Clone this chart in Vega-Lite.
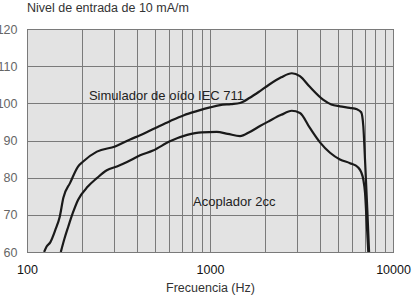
{
  "$schema": "https://vega.github.io/schema/vega-lite/v6.json",
  "width": 366,
  "height": 223,
  "autosize": {"type": "none"},
  "padding": {"left": 27, "top": 29, "right": 22, "bottom": 45},
  "background": "white",
  "title": {
    "text": "Nivel de entrada de 10 mA/m",
    "anchor": "start",
    "frame": "group",
    "fontSize": 12.5,
    "fontWeight": "normal",
    "font": "Liberation Sans",
    "color": "#333333",
    "offset": 9
  },
  "config": {
    "view": {"fill": "#e3e3e3", "stroke": "#444444", "strokeWidth": 1},
    "font": "Liberation Sans"
  },
  "datasets": {
    "curves": [
      {"s": "sim", "i": 0, "f": 124, "db": 60},
      {"s": "sim", "i": 1, "f": 128, "db": 61.5},
      {"s": "sim", "i": 2, "f": 134, "db": 62.6},
      {"s": "sim", "i": 3, "f": 143, "db": 66},
      {"s": "sim", "i": 4, "f": 151, "db": 69.5},
      {"s": "sim", "i": 5, "f": 158, "db": 74.6},
      {"s": "sim", "i": 6, "f": 172, "db": 78.6},
      {"s": "sim", "i": 7, "f": 190, "db": 83},
      {"s": "sim", "i": 8, "f": 202, "db": 84.3},
      {"s": "sim", "i": 9, "f": 241, "db": 87},
      {"s": "sim", "i": 10, "f": 303, "db": 88.4},
      {"s": "sim", "i": 11, "f": 366, "db": 90.3},
      {"s": "sim", "i": 12, "f": 415, "db": 91.4},
      {"s": "sim", "i": 13, "f": 500, "db": 93.3},
      {"s": "sim", "i": 14, "f": 604, "db": 95.2},
      {"s": "sim", "i": 15, "f": 720, "db": 96.8},
      {"s": "sim", "i": 16, "f": 846, "db": 97.9},
      {"s": "sim", "i": 17, "f": 1000, "db": 98.9},
      {"s": "sim", "i": 18, "f": 1134, "db": 99.5},
      {"s": "sim", "i": 19, "f": 1300, "db": 99.8},
      {"s": "sim", "i": 20, "f": 1459, "db": 100.1},
      {"s": "sim", "i": 21, "f": 1650, "db": 101.5},
      {"s": "sim", "i": 22, "f": 1876, "db": 103.3},
      {"s": "sim", "i": 23, "f": 2100, "db": 105},
      {"s": "sim", "i": 24, "f": 2450, "db": 107},
      {"s": "sim", "i": 25, "f": 2800, "db": 108.1},
      {"s": "sim", "i": 26, "f": 3100, "db": 107.3},
      {"s": "sim", "i": 27, "f": 3500, "db": 104.5},
      {"s": "sim", "i": 28, "f": 4146, "db": 101},
      {"s": "sim", "i": 29, "f": 4600, "db": 99.7},
      {"s": "sim", "i": 30, "f": 5130, "db": 99.2},
      {"s": "sim", "i": 31, "f": 5800, "db": 98.8},
      {"s": "sim", "i": 32, "f": 6357, "db": 98.4},
      {"s": "sim", "i": 33, "f": 6700, "db": 97.6},
      {"s": "sim", "i": 34, "f": 6882, "db": 93.9},
      {"s": "sim", "i": 35, "f": 7031, "db": 84.9},
      {"s": "sim", "i": 36, "f": 7237, "db": 71.4},
      {"s": "sim", "i": 37, "f": 7400, "db": 60},
      {"s": "aco", "i": 0, "f": 153, "db": 60},
      {"s": "aco", "i": 1, "f": 160, "db": 63.5},
      {"s": "aco", "i": 2, "f": 168, "db": 66.8},
      {"s": "aco", "i": 3, "f": 178, "db": 70.5},
      {"s": "aco", "i": 4, "f": 190, "db": 74},
      {"s": "aco", "i": 5, "f": 215, "db": 77.6},
      {"s": "aco", "i": 6, "f": 240, "db": 79.8},
      {"s": "aco", "i": 7, "f": 273, "db": 82},
      {"s": "aco", "i": 8, "f": 310, "db": 83},
      {"s": "aco", "i": 9, "f": 352, "db": 84.2},
      {"s": "aco", "i": 10, "f": 415, "db": 86},
      {"s": "aco", "i": 11, "f": 488, "db": 87.3},
      {"s": "aco", "i": 12, "f": 604, "db": 89.8},
      {"s": "aco", "i": 13, "f": 750, "db": 91.5},
      {"s": "aco", "i": 14, "f": 900, "db": 92.2},
      {"s": "aco", "i": 15, "f": 1088, "db": 92.3},
      {"s": "aco", "i": 16, "f": 1250, "db": 91.8},
      {"s": "aco", "i": 17, "f": 1459, "db": 91.2},
      {"s": "aco", "i": 18, "f": 1650, "db": 92.3},
      {"s": "aco", "i": 19, "f": 1876, "db": 93.9},
      {"s": "aco", "i": 20, "f": 2100, "db": 95.2},
      {"s": "aco", "i": 21, "f": 2450, "db": 96.9},
      {"s": "aco", "i": 22, "f": 2795, "db": 98},
      {"s": "aco", "i": 23, "f": 3103, "db": 97.4},
      {"s": "aco", "i": 24, "f": 3500, "db": 93.5},
      {"s": "aco", "i": 25, "f": 3990, "db": 89.5},
      {"s": "aco", "i": 26, "f": 4528, "db": 86.7},
      {"s": "aco", "i": 27, "f": 5130, "db": 84.9},
      {"s": "aco", "i": 28, "f": 5821, "db": 83.9},
      {"s": "aco", "i": 29, "f": 6435, "db": 82.8},
      {"s": "aco", "i": 30, "f": 6700, "db": 81.5},
      {"s": "aco", "i": 31, "f": 6882, "db": 79.5},
      {"s": "aco", "i": 32, "f": 7031, "db": 76},
      {"s": "aco", "i": 33, "f": 7180, "db": 68},
      {"s": "aco", "i": 34, "f": 7329, "db": 60}
    ],
    "labels": [
      {"f": 218, "db": 102, "t": "Simulador de oído IEC 711"},
      {"f": 808, "db": 73.5, "t": "Acoplador 2cc"}
    ]
  },
  "encoding": {
    "x": {
      "field": "f",
      "type": "quantitative",
      "scale": {"type": "log", "domain": [100, 10000], "nice": false},
      "axis": {
        "title": "Frecuencia (Hz)",
        "titleFont": "Liberation Sans",
        "titleFontSize": 12.5,
        "titleFontWeight": "normal",
        "titleColor": "#333333",
        "titlePadding": 6,
        "values": [100, 200, 300, 400, 500, 600, 700, 800, 900, 1000, 2000, 3000, 4000, 5000, 6000, 7000, 8000, 9000, 10000],
        "labelExpr": "(datum.value == 100 || datum.value == 1000 || datum.value == 10000) ? format(datum.value, 'd') : ''",
        "labelFont": "Liberation Sans",
        "labelFontSize": 12.5,
        "labelColor": "#111111",
        "labelFlush": false,
        "labelOverlap": false,
        "labelPadding": 11,
        "ticks": false,
        "domain": false,
        "grid": true,
        "gridColor": "#7a7a7a",
        "gridWidth": 1,
        "gridOpacity": 1
      }
    },
    "y": {
      "field": "db",
      "type": "quantitative",
      "scale": {"domain": [60, 120], "nice": false},
      "axis": {
        "title": null,
        "values": [60, 70, 80, 90, 100, 110, 120],
        "labelFont": "Liberation Sans",
        "labelFontSize": 12.5,
        "labelColor": "#666666",
        "labelPadding": 10,
        "labelOverlap": false,
        "labelFlush": false,
        "ticks": false,
        "domain": false,
        "grid": true,
        "gridColor": "#7a7a7a",
        "gridWidth": 1,
        "gridOpacity": 1
      }
    }
  },
  "layer": [
    {
      "data": {"name": "curves"},
      "mark": {"type": "line", "color": "#1a1a1a", "strokeWidth": 2.2, "clip": true, "interpolate": "monotone"},
      "encoding": {
        "detail": {"field": "s"},
        "order": {"field": "i", "type": "quantitative"}
      }
    },
    {
      "data": {"name": "labels"},
      "mark": {"type": "text", "align": "left", "baseline": "middle", "font": "Liberation Sans", "fontSize": 13, "color": "#222222"},
      "encoding": {
        "text": {"field": "t"}
      }
    }
  ]
}
